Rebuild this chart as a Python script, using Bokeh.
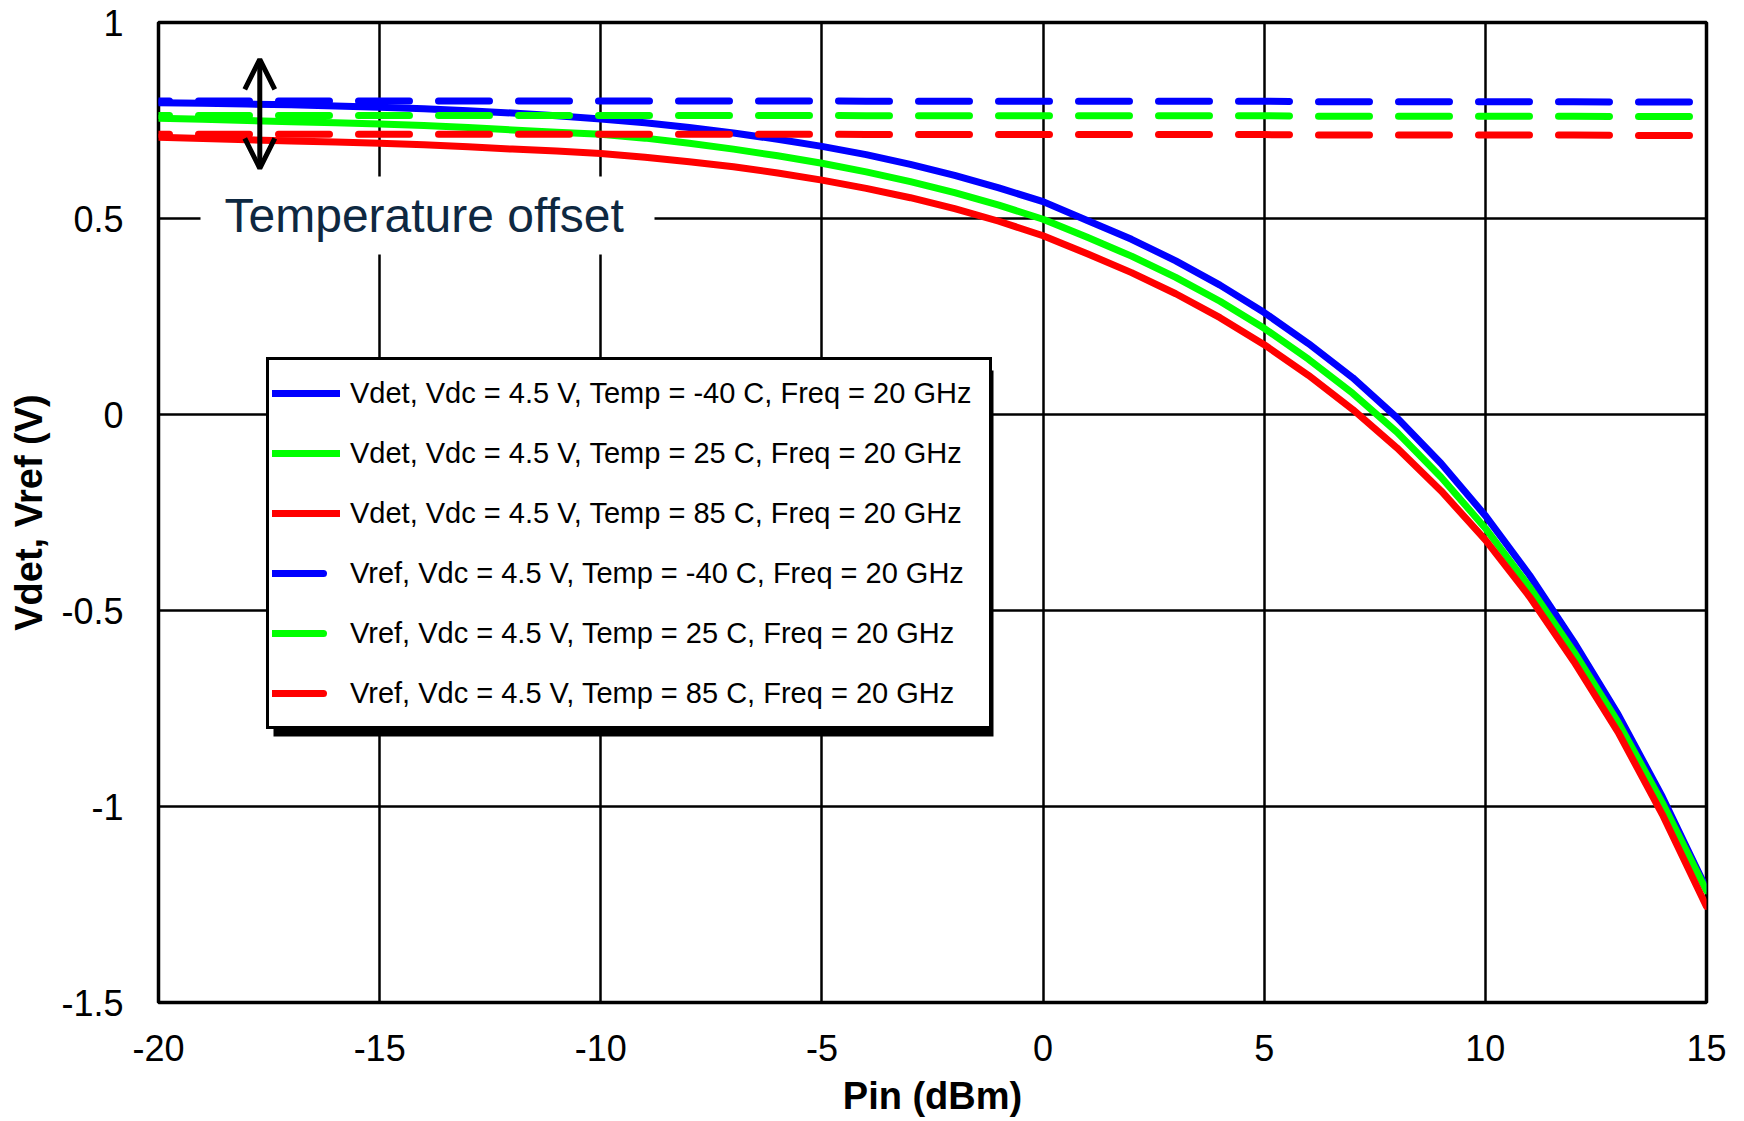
from bokeh.plotting import figure
from bokeh.models import (Range1d, FixedTicker, Legend, LegendItem, Label, Arrow,
                          OpenHead, BoxAnnotation)
from bokeh.embed import file_html
from bokeh.resources import INLINE

# ---------------- data ----------------
pin = list(range(-20, 16))

vdet_m40 = [0.795, 0.794, 0.792, 0.790, 0.787, 0.784, 0.780, 0.775, 0.769, 0.762,
            0.754, 0.744, 0.732, 0.718, 0.702, 0.684, 0.663, 0.638, 0.610, 0.578,
            0.543, 0.495, 0.447, 0.392, 0.330, 0.260, 0.181, 0.094, -0.008, -0.125,
            -0.258, -0.410, -0.580, -0.765, -0.975, -1.210]
vdet_25 = [0.756, 0.753, 0.750, 0.747, 0.744, 0.741, 0.737, 0.732, 0.726, 0.720,
           0.715, 0.705, 0.692, 0.677, 0.660, 0.641, 0.619, 0.594, 0.566, 0.534,
           0.498, 0.452, 0.404, 0.350, 0.289, 0.220, 0.141, 0.054, -0.045, -0.160,
           -0.290, -0.440, -0.605, -0.785, -0.990, -1.215]
vdet_85 = [0.707, 0.704, 0.701, 0.698, 0.695, 0.692, 0.688, 0.683, 0.677, 0.672,
           0.666, 0.656, 0.645, 0.632, 0.616, 0.598, 0.577, 0.553, 0.525, 0.493,
           0.456, 0.410, 0.362, 0.308, 0.247, 0.178, 0.100, 0.013, -0.085, -0.195,
           -0.320, -0.465, -0.630, -0.810, -1.020, -1.255]
vref_m40 = [0.800] * 16 + [0.799] * 10 + [0.798] * 7 + [0.797] * 3
vref_25 = [0.763] * 16 + [0.762] * 10 + [0.761] * 7 + [0.760] * 3
vref_85 = [0.715] * 16 + [0.714] * 10 + [0.713] * 7 + [0.712] * 3

labels = [
    "Vdet, Vdc = 4.5 V, Temp = -40 C, Freq = 20 GHz",
    "Vdet, Vdc = 4.5 V, Temp = 25 C, Freq = 20 GHz",
    "Vdet, Vdc = 4.5 V, Temp = 85 C, Freq = 20 GHz",
    "Vref, Vdc = 4.5 V, Temp = -40 C, Freq = 20 GHz",
    "Vref, Vdc = 4.5 V, Temp = 25 C, Freq = 20 GHz",
    "Vref, Vdc = 4.5 V, Temp = 85 C, Freq = 20 GHz",
]
colors = ["#0000FF", "#00FF00", "#FF0000", "#0000FF", "#00FF00", "#FF0000"]

x_ticks = [-20, -15, -10, -5, 0, 5, 10, 15]
x_tick_labels = ["-20", "-15", "-10", "-5", "0", "5", "10", "15"]
y_ticks = [-1.5, -1, -0.5, 0, 0.5, 1]
y_tick_labels = ["-1.5", "-1", "-0.5", "0", "0.5", "1"]

x_title = "Pin (dBm)"
y_title = "Vdet, Vref (V)"
note_text = "Temperature offset"
arrow_x = -17.71
arrow_y = (0.628, 0.906)

# ---------------- layout ----------------
FONT = "Liberation Sans"
W, H = 1744, 1121
BL, BR, BT, BB = 158, 38, 22, 119
X0, X1, Y0, Y1 = -20, 15, -1.5, 1
FW, FH = W - BL - BR, H - BT - BB
pxx = FW / (X1 - X0)
pxy = FH / (Y1 - Y0)


def dx(px):  # frame pixel offset from left -> data x
    return X0 + px / pxx


def dy(py):  # frame pixel offset from bottom -> data y
    return Y0 + py / pxy


p = figure(width=W, height=H, output_backend="svg", toolbar_location=None,
           x_range=Range1d(X0, X1), y_range=Range1d(Y0, Y1),
           min_border_left=BL, min_border_right=BR, min_border_top=BT,
           min_border_bottom=BB, background_fill_color="white",
           border_fill_color="white")
p.outline_line_color = "black"
p.outline_line_width = 3.5
p.outline_line_alpha = 1

for ax in (p.xaxis, p.yaxis):
    ax.axis_line_color = None
    ax.major_tick_line_color = None
    ax.minor_tick_line_color = None
    ax.major_tick_out = 0
    ax.major_tick_in = 0
    ax.major_label_text_font = FONT
    ax.major_label_text_font_size = "36px"
    ax.major_label_text_color = "black"
    ax.axis_label_text_font = FONT
    ax.axis_label_text_font_size = "38px"
    ax.axis_label_text_font_style = "bold"
    ax.axis_label_text_color = "black"

p.xaxis.ticker = FixedTicker(ticks=x_ticks)
p.xaxis.major_label_overrides = dict(zip(x_ticks, x_tick_labels))
p.yaxis.ticker = FixedTicker(ticks=y_ticks)
p.yaxis.major_label_overrides = dict(zip(y_ticks, y_tick_labels))
p.xaxis.axis_label = x_title
p.yaxis.axis_label = y_title
p.xaxis.major_label_standoff = 32
p.xaxis.axis_label_standoff = 11
p.yaxis.major_label_standoff = 35
p.yaxis.axis_label_standoff = 8

for g in (p.xgrid, p.ygrid):
    g.grid_line_color = "black"
    g.grid_line_width = 2.5
p.xgrid.ticker = FixedTicker(ticks=x_ticks)
p.ygrid.ticker = FixedTicker(ticks=y_ticks)

DASH = "51 29"
series = [vdet_m40, vdet_25, vdet_85, vref_m40, vref_25, vref_85]
renderers = []
for i, (ys, c) in enumerate(zip(series, colors)):
    if i < 3:
        r = p.line(pin, ys, line_color=c, line_width=7, line_cap="round",
                   line_join="round")
    else:
        r = p.line(pin, ys, line_color=c, line_width=7, line_dash=DASH,
                   line_dash_offset=40, line_cap="round", line_join="round")
    renderers.append(r)

# legend swatches for the dashed series (same style, dash phase starting at 0);
# a single NaN point so nothing is drawn in the plot area
legend_renderers = list(renderers[:3])
for c in colors[3:]:
    legend_renderers.append(p.line([float("nan")], [float("nan")], line_color=c,
                                   line_width=7, line_dash=DASH, line_cap="round"))

# white box behind annotation text
p.add_layout(BoxAnnotation(left=dx(200 - BL), right=dx(654 - BL),
                           bottom=dy(H - BB - 254), top=dy(H - BB - 176),
                           fill_color="white", fill_alpha=1, line_color=None,
                           level="annotation"))
p.add_layout(Label(x=dx(224 - BL), y=dy(H - BB - 215), text=note_text,
                   text_font=FONT, text_font_size="48px", text_color="#0E2841",
                   text_baseline="middle", text_align="left"))

p.add_layout(Arrow(x_start=arrow_x, y_start=arrow_y[0], x_end=arrow_x, y_end=arrow_y[1],
                   line_color="black", line_width=5,
                   start=OpenHead(size=30, line_width=5, line_color="black"),
                   end=OpenHead(size=30, line_width=5, line_color="black")))

# legend with drop shadow
PAD, GLW, STD, LBW, LBH = 3, 68, 10, 636, 60
LEG_X, LEG_Y = 108, 273
LEG_W = 2 * PAD + GLW + STD + LBW
LEG_H = 2 * PAD + 6 * LBH
SH = 7
p.add_layout(BoxAnnotation(left=dx(LEG_X + SH), right=dx(LEG_X + LEG_W + SH),
                           bottom=dy(LEG_Y - SH), top=dy(LEG_Y + LEG_H - SH),
                           fill_color="black", fill_alpha=1, line_color=None,
                           level="annotation"))
legend = Legend(items=[LegendItem(label=l, renderers=[r])
                       for l, r in zip(labels, legend_renderers)],
                location=(LEG_X, LEG_Y), label_text_font=FONT,
                label_text_font_size="29px", label_text_color="black",
                label_height=LBH, glyph_height=LBH, glyph_width=GLW, label_standoff=STD,
                label_width=LBW, spacing=0, padding=PAD, margin=0,
                border_line_color="black", border_line_width=3, border_line_alpha=1,
                background_fill_color="white", background_fill_alpha=1)
p.add_layout(legend, "center")

open("out.html", "w").write(file_html(p, INLINE))
